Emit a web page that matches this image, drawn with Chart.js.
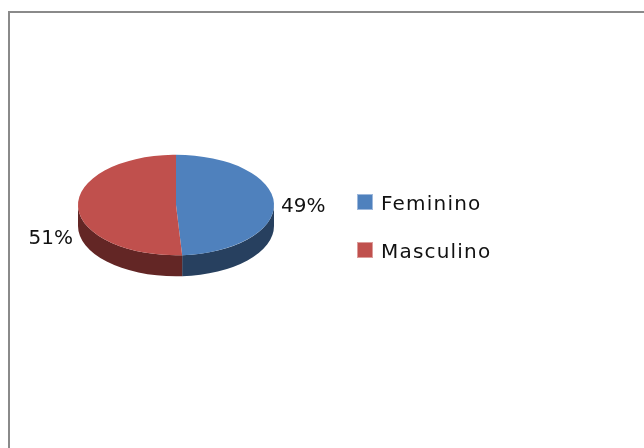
<!DOCTYPE html>
<html>
<head>
<meta charset="utf-8">
<script src="https://cdn.jsdelivr.net/npm/chart.js@4.4.1/dist/chart.umd.min.js"></script>
<style>
  html, body { margin: 0; padding: 0; background: #fff; overflow: hidden; }
  #wrap { position: relative; width: 644px; height: 448px; }
  #frame { position: absolute; left: 8px; top: 11px; width: 700px; height: 500px;
           border: 2px solid #8a8a8a; box-sizing: border-box; }
  #pie { position: absolute; left: 0; top: 0; }
</style>
</head>
<body>
<div id="wrap">
  <div id="frame"></div>
  <canvas id="pie" width="644" height="448"></canvas>
</div>
<script>
// data
var labels = ['Feminino', 'Masculino'];
var values = [49, 51];
var topColors = ['#4f81bd', '#c0504d'];
var sideColors = ['#27405f', '#632625'];
var edgeColors = ['#9db8dc', '#dc9c9a'];

// 3d look
var squash = 0.513;   // vertical squeeze of the top face
var depth = 21;       // thickness of the pie
var font = '20px "DejaVu Sans", Verdana, sans-serif';

var total = values.reduce(function(a, b) { return a + b; }, 0);

var pie3d = {
  id: 'pie3d',
  beforeDatasetsDraw: function(chart) {
    var ctx = chart.ctx;
    var meta = chart.getDatasetMeta(0);
    // side walls, only the front half shows
    meta.data.forEach(function(arc, i) {
      var p = arc.getProps(['x', 'y', 'startAngle', 'endAngle', 'outerRadius'], true);
      var rx = p.outerRadius, ry = p.outerRadius * squash;
      [0, 2 * Math.PI].forEach(function(shift) {
        var s = Math.max(p.startAngle, shift);
        var e = Math.min(p.endAngle, shift + Math.PI);
        if (e <= s) return;
        ctx.beginPath();
        ctx.ellipse(p.x, p.y, rx, ry, 0, s, e);
        ctx.ellipse(p.x, p.y + depth, rx, ry, 0, e, s, true);
        ctx.closePath();
        ctx.fillStyle = sideColors[i];
        ctx.fill();
      });
    });
    // squeeze the top face
    var cy = chart.chartArea.top + chart.chartArea.height / 2;
    ctx.save();
    ctx.translate(0, cy);
    ctx.scale(1, squash);
    ctx.translate(0, -cy);
  },
  afterDatasetsDraw: function(chart) {
    var ctx = chart.ctx;
    ctx.restore();

    var meta = chart.getDatasetMeta(0);
    ctx.save();
    ctx.font = font;
    ctx.fillStyle = '#111';
    ctx.textBaseline = 'alphabetic';

    // percent labels
    meta.data.forEach(function(arc, i) {
      var p = arc.getProps(['x', 'y', 'startAngle', 'endAngle', 'outerRadius'], true);
      var mid = (p.startAngle + p.endAngle) / 2;
      var px = p.x + p.outerRadius * Math.cos(mid);
      var py = p.y + p.outerRadius * squash * Math.sin(mid);
      var txt = Math.round(values[i] / total * 100) + '%';
      if (Math.cos(mid) >= 0) {
        ctx.textAlign = 'left';
        ctx.fillText(txt, px + 7, py + 9);
      } else {
        ctx.textAlign = 'right';
        ctx.fillText(txt, px - 5, py + depth + 16);
      }
    });

    // legend
    ctx.textAlign = 'left';
    ctx.letterSpacing = '1.2px';
    labels.forEach(function(lab, i) {
      var y = 194 + i * 47.5;
      ctx.fillStyle = edgeColors[i];
      ctx.fillRect(357, Math.round(y), 16, 16);
      ctx.fillStyle = topColors[i];
      ctx.fillRect(358, Math.round(y) + 1, 14, 14);
      ctx.fillStyle = '#111';
      ctx.fillText(lab, 381, Math.round(y) + 16);
    });
    ctx.restore();
  }
};

new Chart(document.getElementById('pie'), {
  type: 'pie',
  data: {
    labels: labels,
    datasets: [{
      data: values,
      backgroundColor: topColors,
      borderWidth: 0,
      clip: false
    }]
  },
  options: {
    responsive: false,
    devicePixelRatio: 1,
    animation: false,
    events: [],
    layout: { padding: { left: 78, right: 370, top: 107, bottom: 145 } },
    plugins: {
      legend: { display: false },
      tooltip: { enabled: false }
    }
  },
  plugins: [pie3d]
});
</script>
</body>
</html>
